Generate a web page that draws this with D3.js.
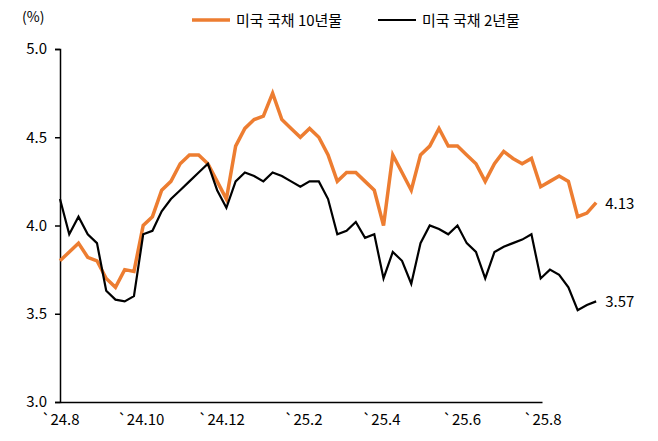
<!DOCTYPE html>
<html><head><meta charset="utf-8">
<script src="https://cdn.jsdelivr.net/npm/d3@7"></script>
<style>body{margin:0;background:#fff}text{font-family:"Noto Sans CJK KR","Noto Sans",sans-serif}</style>
</head><body><svg id="c" width="658" height="441"></svg>
<script>
// weekly readings, starting 2024-08-01
const tenYear = [3.80,3.85,3.90,3.82,3.80,3.70,3.65,3.75,3.74,4.00,4.05,4.20,4.25,4.35,4.40,4.40,4.35,4.25,4.15,4.45,4.55,4.60,4.62,4.75,4.60,4.55,4.50,4.55,4.50,4.40,4.25,4.30,4.30,4.25,4.20,4.00,4.40,4.30,4.20,4.40,4.45,4.55,4.45,4.45,4.40,4.35,4.25,4.35,4.42,4.38,4.35,4.38,4.22,4.25,4.28,4.25,4.05,4.07,4.13];
const twoYear = [4.15,3.95,4.05,3.95,3.90,3.63,3.58,3.57,3.60,3.95,3.97,4.08,4.15,4.20,4.25,4.30,4.35,4.20,4.10,4.25,4.30,4.28,4.25,4.30,4.28,4.25,4.22,4.25,4.25,4.15,3.95,3.97,4.02,3.93,3.95,3.70,3.85,3.80,3.67,3.90,4.00,3.98,3.95,4.00,3.90,3.85,3.70,3.85,3.88,3.90,3.92,3.95,3.70,3.75,3.72,3.65,3.52,3.55,3.57];
const seriesNames = ["미국 국채 10년물","미국 국채 2년물"];
const yTicks = [3.0,3.5,4.0,4.5,5.0];
const xTickLabels = ["`24.8","`24.10","`24.12","`25.2","`25.4","`25.6","`25.8"];

const start = new Date(2024,7,1);
const dates = tenYear.map((d,i)=>d3.timeDay.offset(start,i*7));
const xTickDates = [new Date(2024,7,1),new Date(2024,9,1),new Date(2024,11,1),new Date(2025,1,1),new Date(2025,3,1),new Date(2025,5,1),new Date(2025,7,1)];

const svg = d3.select("#c");
const x = d3.scaleTime().domain([new Date(2024,7,1),new Date(2025,7,1)]).range([60,542]);
const y = d3.scaleLinear().domain([3,5]).range([402,49]);

svg.append("g").attr("transform","translate(60,0)")
  .call(d3.axisLeft(y).tickValues(yTicks).tickFormat(d3.format(".1f")).tickSize(5).tickPadding(8))
  .call(g=>{g.selectAll("text").attr("font-size",15).attr("fill","#000");g.selectAll("line,path").attr("stroke","#000").attr("stroke-width",1.5);});
svg.append("g").attr("transform","translate(0,402)")
  .call(d3.axisBottom(x).tickValues(xTickDates).tickFormat((d,i)=>xTickLabels[i]).tickSize(0).tickPadding(12))
  .call(g=>{g.selectAll("text").attr("font-size",15).attr("fill","#000");g.select("path").attr("stroke","#000").attr("stroke-width",1.5);});
svg.append("text").attr("x",22).attr("y",22).attr("font-size",14).text("(%)");

const line = d3.line().x((d,i)=>x(dates[i])).y(d=>y(d)).curve(d3.curveLinear);
svg.append("path").datum(tenYear).attr("d",line).attr("fill","none").attr("stroke","#ED7D31").attr("stroke-width",3.5);
svg.append("path").datum(twoYear).attr("d",line).attr("fill","none").attr("stroke","#000").attr("stroke-width",2.2);

const last = dates.length-1;
svg.append("text").attr("x",x(dates[last])+9).attr("y",y(tenYear[last])+6).attr("font-size",15).text(tenYear[last].toFixed(2));
svg.append("text").attr("x",x(dates[last])+9).attr("y",y(twoYear[last])+6).attr("font-size",15).text(twoYear[last].toFixed(2));

const leg = [{c:"#ED7D31",w:3.5,x:192},{c:"#000",w:2.2,x:378}];
leg.forEach((l,i)=>{
  svg.append("line").attr("x1",l.x).attr("x2",l.x+38).attr("y1",20).attr("y2",20).attr("stroke",l.c).attr("stroke-width",l.w);
  svg.append("text").attr("x",l.x+44).attr("y",26).attr("font-size",15).text(seriesNames[i]);
});
</script></body></html>
